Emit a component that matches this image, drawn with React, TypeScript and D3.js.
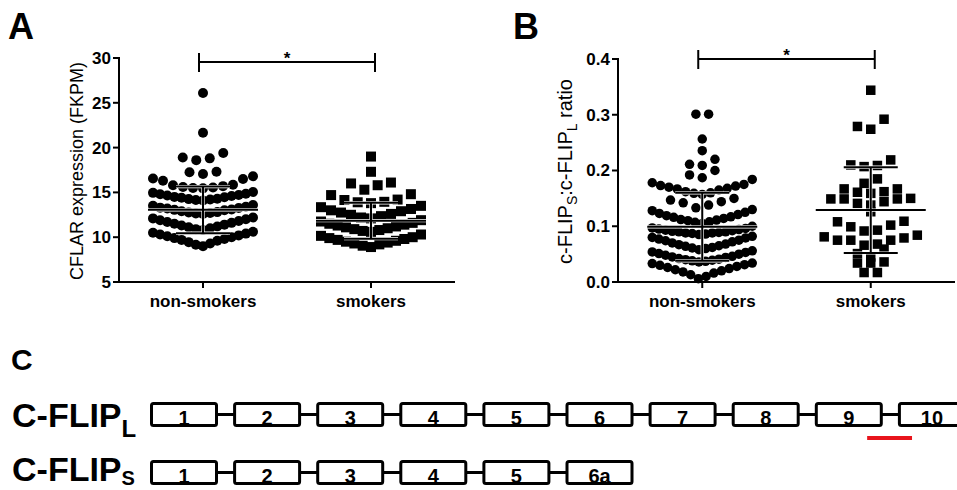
import React from 'react'
import * as d3 from 'd3'

// groups on the x axis of both scatter panels
const groups = ['non-smokers', 'smokers']

// panel A: CFLAR expression (FKPM)
const cflarNonSmokers = [
  9.0, 9.15, 9.3, 9.45, 9.6, 9.7, 9.8, 9.9, 10.0, 10.1, 10.2, 10.3, 10.4, 10.5, 10.6,
  10.8, 10.9, 11.0, 11.1, 11.2, 11.3, 11.4, 11.5, 11.6, 11.7, 11.8, 11.9, 12.0, 12.1, 12.2,
  12.6, 12.65, 12.7, 12.75, 12.8, 12.9, 13.0, 13.05, 13.1, 13.2, 13.25, 13.3, 13.4, 13.5, 13.6,
  14.1, 14.15, 14.2, 14.25, 14.3, 14.4, 14.45, 14.5, 14.6, 14.65, 14.7, 14.8, 14.85, 14.95, 15.05,
  15.45, 15.5, 15.55, 15.6, 15.7, 15.8, 15.85, 16.3, 16.5, 16.55, 16.8,
  17.05, 17.25, 17.3,
  18.6, 18.8, 18.9, 19.4,
  21.66,
  26.1
]
const cflarSmokers = [
  8.9, 9.05, 9.2, 9.3, 9.4, 9.5, 9.6, 9.7, 9.8, 9.9, 10.0, 10.15, 10.3,
  10.6, 10.7, 10.8, 10.9, 11.0, 11.1, 11.2, 11.3, 11.4, 11.5, 11.6, 11.75, 11.9,
  12.1, 12.2, 12.35, 12.5, 12.6, 12.75, 12.9, 13.0, 13.15, 13.35, 13.5,
  13.8, 13.9, 13.95, 14.15, 14.2, 14.7, 14.8,
  15.3, 15.8, 16.0, 16.1,
  17.3,
  19.0
]
const cflarMean = [13.05, 11.84]
const cflarSD = [2.6, 2.0]
const cflarTicks = [5, 10, 15, 20, 25, 30]

// panel B: c-FLIPS : c-FLIPL ratio
const ratioNonSmokers = [
  0.006, 0.010, 0.013, 0.016, 0.018, 0.020, 0.022, 0.024, 0.026, 0.028, 0.030, 0.031, 0.033, 0.034,
  0.036, 0.037, 0.038, 0.039, 0.040, 0.041, 0.042, 0.044, 0.045, 0.046, 0.048, 0.050, 0.051, 0.053, 0.054, 0.056,
  0.058, 0.060, 0.061, 0.062, 0.064, 0.065, 0.067, 0.068, 0.070, 0.072, 0.074, 0.075, 0.077, 0.079, 0.080, 0.082,
  0.085, 0.086, 0.087, 0.088, 0.088, 0.089, 0.090, 0.090, 0.091, 0.092, 0.093, 0.094, 0.095, 0.096, 0.097, 0.100,
  0.105, 0.107, 0.108, 0.110, 0.111, 0.112, 0.114, 0.116, 0.117, 0.119, 0.121, 0.123, 0.125, 0.128, 0.130,
  0.133, 0.138, 0.142, 0.144, 0.147, 0.150,
  0.157, 0.159, 0.160, 0.162, 0.165, 0.167, 0.168, 0.170, 0.172, 0.173, 0.175, 0.178, 0.184,
  0.187, 0.192, 0.200,
  0.209, 0.211, 0.220,
  0.2355, 0.2565,
  0.301, 0.301
]
const ratioSmokers = [
  0.017, 0.017,
  0.034, 0.034, 0.036,
  0.045, 0.051, 0.059,
  0.066, 0.068, 0.075, 0.075, 0.075, 0.079, 0.081, 0.084,
  0.0915, 0.093, 0.099, 0.102, 0.108, 0.109,
  0.126,
  0.138, 0.141, 0.144, 0.149, 0.149, 0.149, 0.150,
  0.159, 0.161, 0.162, 0.167, 0.167,
  0.177, 0.185,
  0.207, 0.209, 0.210, 0.219,
  0.274, 0.279, 0.292,
  0.344
]
const ratioMean = [0.099, 0.129]
const ratioSD = [0.061, 0.077]
const ratioTicks = [0, 0.1, 0.2, 0.3, 0.4]

// panel C: exon maps
const exonsLong = ['1', '2', '3', '4', '5', '6', '7', '8', '9', '10']
const exonsShort = ['1', '2', '3', '4', '5', '6a']
const primerSpan = [8.63, 9.17] // in exon units, under the 9/10 junction

const FONT = "'Liberation Sans', Arial, Helvetica, sans-serif"

// row edges used to stack the dots like a Prism column scatter
const rowsCflarNon = [8, 10.7, 12.4, 13.85, 15.25, 16.95, 18.0, 20.5, 24, 31]
const rowsCflarSmk = [8, 10.45, 12.0, 13.65, 15.1, 16.7, 18.2, 20]
const rowsRatioNon = [0, 0.035, 0.057, 0.0835, 0.1025, 0.1315, 0.1535, 0.1855, 0.205, 0.225, 0.245, 0.28, 0.35]
const rowsRatioSmk = [0, 0.025, 0.042, 0.062, 0.088, 0.115, 0.13, 0.155, 0.172, 0.195, 0.24, 0.31, 0.4]

function swarm (values, edges, maxStep, maxSpan) {
  const out = []
  for (let i = 0; i < edges.length - 1; i++) {
    const row = values.filter(v => v >= edges[i] && v < edges[i + 1]).sort(d3.ascending)
    const n = row.length
    const step = n > 1 ? Math.min(maxStep, maxSpan / (n - 1)) : 0
    row.forEach((v, k) => {
      let slot
      if (n % 2) slot = k === 0 ? 0 : (k % 2 ? -Math.ceil(k / 2) : k / 2)
      else slot = k % 2 ? Math.floor(k / 2) + 0.5 : -(k / 2 + 0.5)
      out.push({ v, dx: slot * step })
    })
  }
  return out
}

function ScatterPanel (props) {
  const { left, right, top, bottom, domain, ticks, fmt, series, rows, means, sds, shape, size, maxStep, bracketY, ylabel, labelX, labelSize, letter, letterX } = props
  const x = d3.scalePoint().domain(groups).range([left, right]).padding(0.5)
  const y = d3.scaleLinear().domain(domain).range([bottom, top])
  const half = size / 2

  return (
    <g fontFamily={FONT}>
      <text x={letterX} y={39} fontSize={36} fontWeight='bold'>{letter}</text>

      {/* axes */}
      <line x1={left} x2={left} y1={y(domain[1]) - 1} y2={bottom + 1} stroke='#000' strokeWidth={2} />
      <line x1={left - 1} x2={right} y1={bottom} y2={bottom} stroke='#000' strokeWidth={2} />
      {ticks.map(t => (
        <g key={t}>
          <line x1={left - 6} x2={left} y1={y(t)} y2={y(t)} stroke='#000' strokeWidth={2} />
          <text x={left - 8} y={y(t)} dy='0.35em' textAnchor='end' fontSize={17} fontWeight='bold'>{fmt(t)}</text>
        </g>
      ))}
      {groups.map(g => (
        <g key={g}>
          <line x1={x(g)} x2={x(g)} y1={bottom} y2={bottom + 6} stroke='#000' strokeWidth={2} />
          <text x={x(g)} y={bottom + 25} textAnchor='middle' fontSize={17} fontWeight='bold'>{g}</text>
        </g>
      ))}
      <text transform={`translate(${labelX},${(top + bottom) / 2 + 1}) rotate(-90)`} textAnchor='middle' fontSize={labelSize}>{ylabel}</text>

      {/* dots */}
      {groups.map((g, gi) => swarm(series[gi], rows[gi], maxStep[gi], 100).map((d, i) => (
        shape[gi] === 'circle'
          ? <circle key={g + i} cx={x(g) + d.dx} cy={y(d.v)} r={half} fill='#000' />
          : <rect key={g + i} x={x(g) + d.dx - half} y={y(d.v) - half} width={size} height={size} fill='#000' />
      )))}

      {/* mean and SD */}
      {groups.map((g, gi) => {
        const cx = x(g)
        const m = y(means[gi])
        const hi = y(means[gi] + sds[gi])
        const lo = y(means[gi] - sds[gi])
        const segs = [
          [cx - 55, m, cx + 55, m],
          [cx, hi, cx, lo],
          [cx - 27, hi, cx + 27, hi],
          [cx - 27, lo, cx + 27, lo]
        ]
        return (
          <g key={g}>
            {segs.map((s, i) => <line key={'w' + i} x1={s[0]} y1={s[1]} x2={s[2]} y2={s[3]} stroke='#fff' strokeWidth={3.2} />)}
            {segs.map((s, i) => <line key={'b' + i} x1={s[0]} y1={s[1]} x2={s[2]} y2={s[3]} stroke='#000' strokeWidth={2} />)}
          </g>
        )
      })}

      {/* significance bracket */}
      <g stroke='#000' strokeWidth={2}>
        <line x1={x(groups[0]) - 4} x2={x(groups[1]) + 4} y1={bracketY} y2={bracketY} />
        <line x1={x(groups[0]) - 4} x2={x(groups[0]) - 4} y1={bracketY - 9} y2={bracketY + 10} />
        <line x1={x(groups[1]) + 4} x2={x(groups[1]) + 4} y1={bracketY - 9} y2={bracketY + 10} />
      </g>
      <text x={(x(groups[0]) + x(groups[1])) / 2} y={bracketY + 2} textAnchor='middle' fontSize={17} fontWeight='bold'>*</text>
    </g>
  )
}

function ExonRow ({ labels, top, height, x }) {
  const w = 68
  const mid = top + height / 2
  return (
    <g>
      {labels.slice(1).map((l, i) => (
        <line key={'c' + l} x1={x(i) + w - 1} x2={x(i + 1) + 1} y1={mid} y2={mid} stroke='#000' strokeWidth={3} />
      ))}
      {labels.map((l, i) => (
        <g key={l}>
          <rect x={x(i) + 1.5} y={top + 1.5} width={w - 3} height={height - 3} rx={2} fill='#fff' stroke='#000' strokeWidth={3} />
          <text x={x(i) + w / 2} y={top + height - 2} textAnchor='middle' fontSize={20} fontWeight='bold'>{l}</text>
        </g>
      ))}
    </g>
  )
}

function ExonPanel () {
  const x = d3.scaleLinear().domain([0, 1]).range([150, 233.1])
  return (
    <g fontFamily={FONT}>
      <text x={11} y={370} fontSize={30} fontWeight='bold'>C</text>
      <text x={12} y={427} fontSize={34} fontWeight='bold'>C-FLIP<tspan fontSize={24} dy={10}>L</tspan></text>
      <text x={12} y={481} fontSize={34} fontWeight='bold'>C-FLIP<tspan fontSize={20} dy={4}>S</tspan></text>
      <ExonRow labels={exonsLong} top={402} height={25} x={x} />
      <ExonRow labels={exonsShort} top={460} height={25} x={x} />
      <line x1={x(primerSpan[0])} x2={x(primerSpan[1])} y1={438} y2={438} stroke='#e8141c' strokeWidth={4} />
    </g>
  )
}

export default function App () {
  const ratioLabel = (
    <>
      c-FLIP<tspan fontSize={14} dy={5}>S</tspan><tspan dy={-5}>:c-FLIP</tspan><tspan fontSize={14} dy={5}>L</tspan><tspan dy={-5}> ratio</tspan>
    </>
  )
  return (
    <svg width={957} height={490} style={{ position: 'absolute', left: 0, top: 0, background: '#fff' }}>
      <rect width={957} height={490} fill='#fff' />
      <ScatterPanel
        left={119} right={455} top={58} bottom={282}
        domain={[5, 30]} ticks={cflarTicks} fmt={d3.format('d')}
        series={[cflarNonSmokers, cflarSmokers]} rows={[rowsCflarNon, rowsCflarSmk]}
        means={cflarMean} sds={cflarSD}
        shape={['circle', 'square']} size={10} maxStep={[13.5, 13.3]}
        bracketY={62} ylabel='CFLAR expression (FKPM)' labelX={83} labelSize={18}
        letter='A' letterX={8}
      />
      <ScatterPanel
        left={618} right={955} top={59} bottom={282}
        domain={[0, 0.4]} ticks={ratioTicks} fmt={d3.format('.1f')}
        series={[ratioNonSmokers, ratioSmokers]} rows={[rowsRatioNon, rowsRatioSmk]}
        means={ratioMean} sds={ratioSD}
        shape={['circle', 'square']} size={9.5} maxStep={[12.7, 13.3]}
        bracketY={59} ylabel={ratioLabel} labelX={572} labelSize={20}
        letter='B' letterX={513}
      />
      <ExonPanel />
    </svg>
  )
}
